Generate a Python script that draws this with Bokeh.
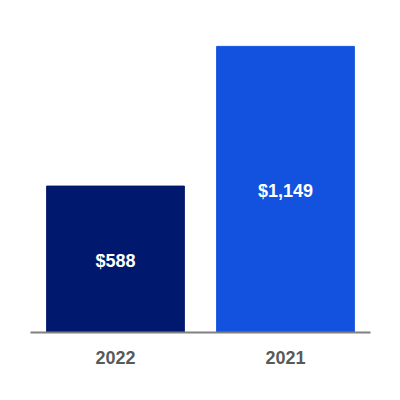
from bokeh.plotting import figure
from bokeh.models import ColumnDataSource, Range1d, FactorRange
from bokeh.core.properties import value
from bokeh.embed import file_html
from bokeh.resources import INLINE

years = ["2022", "2021"]
amounts = [588, 1149]
amount_labels = ["$588", "$1,149"]
bar_colors = ["#00186E", "#1352DE"]

src = ColumnDataSource(dict(
    x=years, top=amounts, mid=[a / 2 for a in amounts],
    label=amount_labels, color=bar_colors,
))

p = figure(
    width=392, height=392, output_backend="svg", toolbar_location=None,
    x_range=FactorRange(*years, range_padding=0), y_range=Range1d(0, 1261),
    min_border_left=30, min_border_right=22, min_border_top=18, min_border_bottom=60,
)
p.vbar(x="x", top="top", width=0.81, color="color", source=src)
p.text(x="x", y="mid", text="label", source=src, text_color="white",
       text_font=value("Liberation Sans"), text_font_style="bold",
       text_font_size="18px", text_align="center", text_baseline="middle",
       y_offset=2)

p.yaxis.visible = False
p.xgrid.visible = False
p.ygrid.visible = False
p.outline_line_color = None
p.background_fill_color = "white"
p.border_fill_color = "white"

ax = p.xaxis[0]
ax.axis_line_color = "#808080"
ax.axis_line_width = 2
ax.major_tick_line_color = None
ax.minor_tick_line_color = None
ax.major_label_text_font = "Liberation Sans"
ax.major_label_text_font_style = "bold"
ax.major_label_text_font_size = "18px"
ax.major_label_text_color = "#595959"
ax.major_label_standoff = 12

open("out.html", "w").write(file_html(p, INLINE))
